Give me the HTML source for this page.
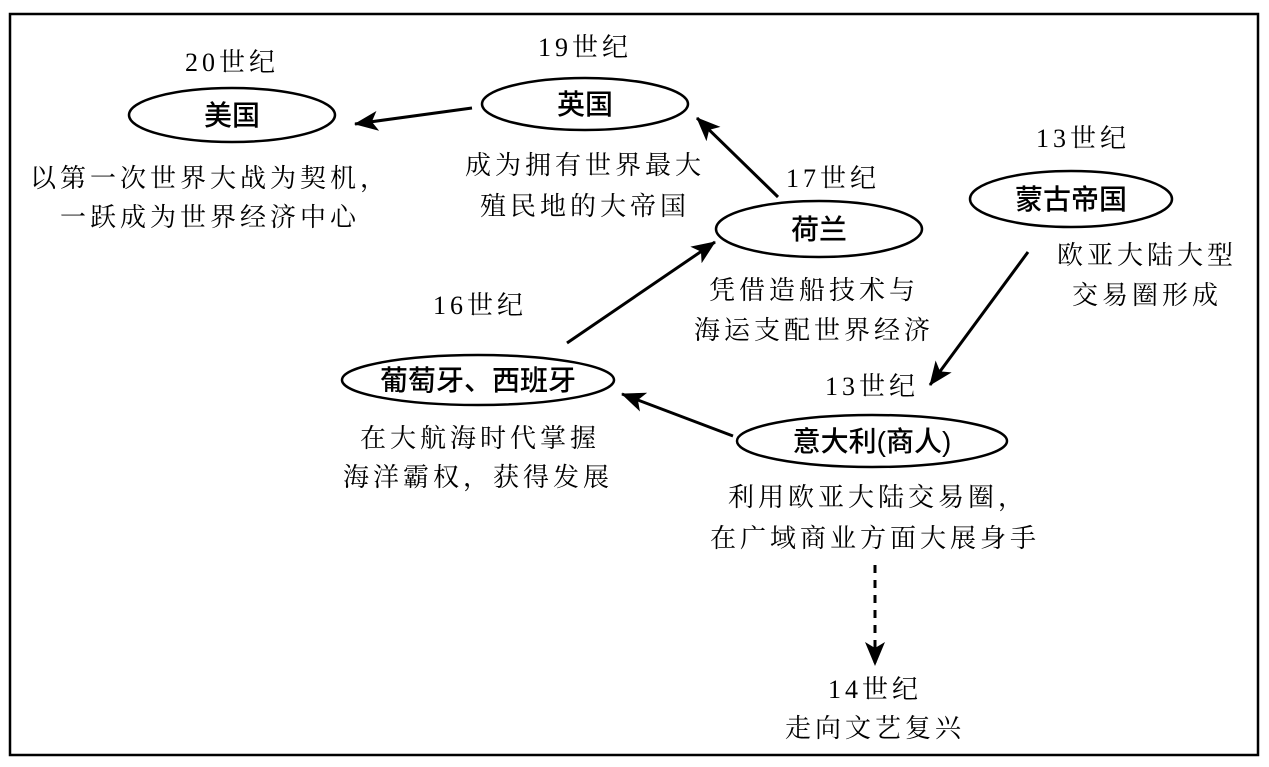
<!DOCTYPE html>
<html><head><meta charset="utf-8"><style>
html,body{margin:0;padding:0;background:#fff;}
svg{display:block;}
.s{font-family:"Liberation Serif","Noto Serif CJK SC",serif;font-size:26px;letter-spacing:4px;fill:#000;}
.b{font-family:"Liberation Sans","Noto Sans CJK SC",sans-serif;font-size:28px;font-weight:500;fill:#000;}
</style></head><body>
<svg width="1269" height="767" viewBox="0 0 1269 767" xmlns="http://www.w3.org/2000/svg">
<defs>
<marker id="a2" viewBox="0 0 24 20" markerWidth="24" markerHeight="20" refX="23" refY="10" orient="auto" markerUnits="userSpaceOnUse">
<path d="M0,0 L24,10 L0,20 L6,10 Z" fill="#000"/>
</marker>
</defs>
<rect x="10" y="14" width="1248" height="741" fill="none" stroke="#000" stroke-width="2.5"/>
<g fill="none" stroke="#000" stroke-width="2.5">
<ellipse cx="232" cy="115" rx="103" ry="27"/>
<ellipse cx="585" cy="104" rx="103" ry="26"/>
<ellipse cx="819" cy="229" rx="103" ry="28"/>
<ellipse cx="1071" cy="199" rx="101" ry="28"/>
<ellipse cx="478" cy="380" rx="136" ry="25"/>
<ellipse cx="872" cy="441" rx="135" ry="26"/>
</g>
<g stroke="#000" stroke-width="3" fill="none">
<line x1="472" y1="108" x2="355" y2="124" marker-end="url(#a2)"/>
<line x1="778" y1="197" x2="697" y2="118" marker-end="url(#a2)"/>
<line x1="567" y1="343" x2="715" y2="242" marker-end="url(#a2)"/>
<line x1="1028" y1="252" x2="930" y2="385" marker-end="url(#a2)"/>
<line x1="733" y1="436" x2="622" y2="394" marker-end="url(#a2)"/>
<line x1="875" y1="565" x2="875" y2="665" stroke-dasharray="8,7" marker-end="url(#a2)"/>
</g>
<g text-anchor="middle">
<text class="b" x="232" y="125">美国</text>
<text class="b" x="585" y="114">英国</text>
<text class="b" x="819" y="239">荷兰</text>
<text class="b" x="1071" y="209">蒙古帝国</text>
<text class="b" x="478" y="390">葡萄牙、西班牙</text>
<text class="b" x="872" y="451">意大利(商人)</text>

<text class="s" x="232" y="71">20世纪</text>
<text class="s" x="585" y="56">19世纪</text>
<text class="s" x="833" y="187">17世纪</text>
<text class="s" x="1083" y="147">13世纪</text>
<text class="s" x="480" y="314">16世纪</text>
<text class="s" x="872" y="395">13世纪</text>
<text class="s" x="875" y="698">14世纪</text>

<text class="s" x="210" y="187">以第一次世界大战为契机，</text>
<text class="s" x="210" y="226">一跃成为世界经济中心</text>
<text class="s" x="585" y="174">成为拥有世界最大</text>
<text class="s" x="585" y="215">殖民地的大帝国</text>
<text class="s" x="1147" y="264">欧亚大陆大型</text>
<text class="s" x="1147" y="304">交易圈形成</text>
<text class="s" x="814" y="299">凭借造船技术与</text>
<text class="s" x="814" y="339">海运支配世界经济</text>
<text class="s" x="480" y="447">在大航海时代掌握</text>
<text class="s" x="478" y="486">海洋霸权，获得发展</text>
<text class="s" x="878" y="506">利用欧亚大陆交易圈，</text>
<text class="s" x="875" y="547">在广域商业方面大展身手</text>
<text class="s" x="875" y="737">走向文艺复兴</text>
</g>
</svg>
</body></html>
